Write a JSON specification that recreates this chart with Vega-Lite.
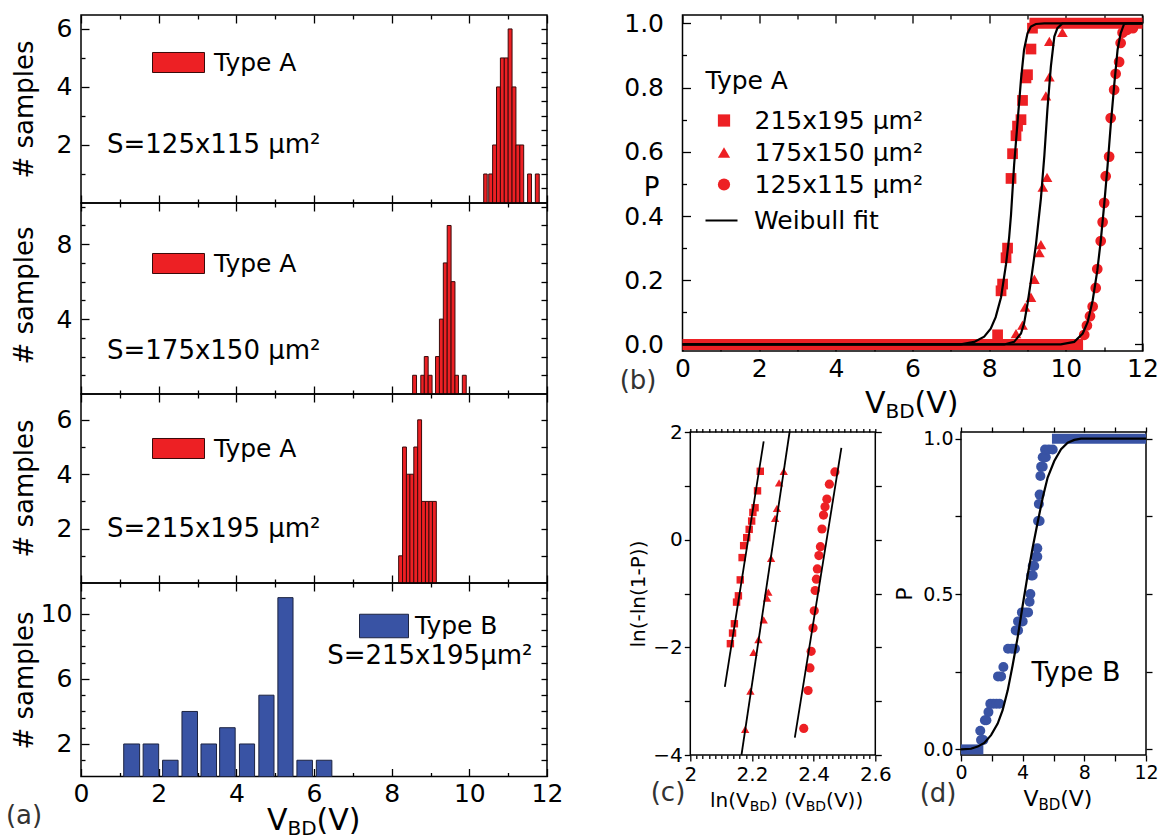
{
"$schema": "https://vega.github.io/schema/vega-lite/v6.json",
"background": "white",
"padding": {"left": 5, "top": 10, "right": 5, "bottom": 2},
"config": {
  "font": "DejaVu Sans",
  "view": {"stroke": "#000", "strokeWidth": 1.5},
  "axis": {"domain": false, "grid": false, "labelFont": "DejaVu Sans", "titleFont": "DejaVu Sans", "labelColor": "#000", "titleColor": "#000", "tickColor": "#000", "tickWidth": 1.3, "labelFlush": false, "labelOverlap": false, "titleFontWeight": "normal"},
  "legend": {"labelFont": "DejaVu Sans", "titleFont": "DejaVu Sans", "labelColor": "#000", "titleColor": "#000", "titleFontWeight": "normal", "padding": 0, "labelLimit": 400},
  "text": {"font": "DejaVu Sans", "color": "#000"}
},
"spacing": 54.5,
"bounds": "full",
"resolve": {"scale": {"color": "independent", "shape": "independent", "size": "independent"}, "legend": {"color": "independent", "shape": "independent", "size": "independent"}},
"hconcat": [
{
  "spacing": 0,
  "bounds": "flush",
  "resolve": {"scale": {"color": "independent", "shape": "independent", "size": "independent"}, "legend": {"color": "independent", "shape": "independent", "size": "independent"}},
  "vconcat": [
  {
    "width": 466, "height": 188,
    "layer": [
      {
        "data": {"values": [
          {"type": "Type A", "v0": 10.37, "v1": 10.46, "n": 1},
          {"type": "Type A", "v0": 10.5, "v1": 10.6, "n": 1},
          {"type": "Type A", "v0": 10.6, "v1": 10.7, "n": 2},
          {"type": "Type A", "v0": 10.7, "v1": 10.8, "n": 4},
          {"type": "Type A", "v0": 10.8, "v1": 10.9, "n": 5},
          {"type": "Type A", "v0": 10.9, "v1": 11.0, "n": 5},
          {"type": "Type A", "v0": 11.0, "v1": 11.1, "n": 6},
          {"type": "Type A", "v0": 11.1, "v1": 11.2, "n": 4},
          {"type": "Type A", "v0": 11.2, "v1": 11.3, "n": 2},
          {"type": "Type A", "v0": 11.3, "v1": 11.4, "n": 2},
          {"type": "Type A", "v0": 11.5, "v1": 11.6, "n": 1},
          {"type": "Type A", "v0": 11.7, "v1": 11.8, "n": 1}
        ]},
        "mark": {"type": "bar", "stroke": "#3a0a0a", "strokeWidth": 1},
        "encoding": {
          "x": {"field": "v0", "type": "quantitative", "scale": {"domain": [0, 12], "nice": false, "zero": false},
                "axis": {"orient": "bottom", "values": [0,1,2,3,4,5,6,7,8,9,10,11,12], "labels": false, "title": null, "tickSize": {"condition": {"test": "datum.value % 2 == 0", "value": -8}, "value": -4}}},
          "x2": {"field": "v1"},
          "y": {"field": "n", "type": "quantitative", "scale": {"domain": [0, 6.48], "nice": false},
                "axis": {"orient": "left", "values": [1,2,3,4,5,6], "labelExpr": "datum.value % 2 == 0 ? datum.label : ''", "tickSize": {"condition": {"test": "datum.value % 2 == 0", "value": -8}, "value": -4}, "labelFontSize": 25, "labelPadding": 17, "title": "# samples", "titleFontSize": 26, "titleX": -44, "titleY": 94}},
          "y2": {"datum": 0},
          "color": {"field": "type", "type": "nominal", "scale": {"range": ["#ed2024"]},
                    "legend": {"title": null, "orient": "none", "legendX": 71, "legendY": 21, "symbolType": "M-1,-0.385L1,-0.385L1,0.385L-1,0.385Z", "symbolSize": 2704, "symbolStrokeColor": "#3a0a0a", "symbolStrokeWidth": 1, "symbolOpacity": 1, "labelFontSize": 25, "labelOffset": 9}}
        }
      },
      {
        "data": {"values": [{}]},
        "mark": {"type": "text", "align": "left", "baseline": "middle", "fontSize": 26},
        "encoding": {
          "x": {"datum": 0.67, "type": "quantitative", "axis": {"orient": "top", "values": [0,1,2,3,4,5,6,7,8,9,10,11,12], "labels": false, "title": null, "tickSize": {"condition": {"test": "datum.value % 2 == 0", "value": -8}, "value": -4}}},
          "y": {"datum": 2.0, "type": "quantitative", "axis": {"orient": "right", "values": [0.5,1,1.5,2,2.5,3,3.5,4,4.5,5,5.5,6], "labels": false, "title": null, "tickSize": -6}},
          "text": {"value": "S=125x115 μm²"}
        }
      }
    ],
    "resolve": {"axis": {"x": "independent", "y": "independent"}}
  },
  {
    "width": 466, "height": 191,
    "layer": [
      {
        "data": {"values": [
          {"type": "Type A", "v0": 8.54, "v1": 8.64, "n": 1},
          {"type": "Type A", "v0": 8.75, "v1": 8.84, "n": 1},
          {"type": "Type A", "v0": 8.84, "v1": 8.94, "n": 2},
          {"type": "Type A", "v0": 8.94, "v1": 9.04, "n": 1},
          {"type": "Type A", "v0": 9.13, "v1": 9.23, "n": 2},
          {"type": "Type A", "v0": 9.23, "v1": 9.33, "n": 4},
          {"type": "Type A", "v0": 9.33, "v1": 9.43, "n": 7},
          {"type": "Type A", "v0": 9.43, "v1": 9.53, "n": 9},
          {"type": "Type A", "v0": 9.53, "v1": 9.63, "n": 6},
          {"type": "Type A", "v0": 9.63, "v1": 9.72, "n": 1},
          {"type": "Type A", "v0": 9.82, "v1": 9.92, "n": 1}
        ]},
        "mark": {"type": "bar", "stroke": "#3a0a0a", "strokeWidth": 1},
        "encoding": {
          "x": {"field": "v0", "type": "quantitative", "scale": {"domain": [0, 12], "nice": false, "zero": false},
                "axis": {"orient": "bottom", "values": [0,1,2,3,4,5,6,7,8,9,10,11,12], "labels": false, "title": null, "tickSize": {"condition": {"test": "datum.value % 2 == 0", "value": -8}, "value": -4}}},
          "x2": {"field": "v1"},
          "y": {"field": "n", "type": "quantitative", "scale": {"domain": [0, 10.2], "nice": false},
                "axis": {"orient": "left", "values": [1,2,3,4,5,6,7,8,9,10], "labelExpr": "datum.value % 4 == 0 ? datum.label : ''", "tickSize": {"condition": {"test": "datum.value % 4 == 0", "value": -8}, "value": -4}, "labelFontSize": 25, "labelPadding": 17, "title": "# samples", "titleFontSize": 26, "titleX": -44, "titleY": 92}},
          "y2": {"datum": 0},
          "color": {"field": "type", "type": "nominal", "scale": {"range": ["#ed2024"]},
                    "legend": {"title": null, "orient": "none", "legendX": 71, "legendY": 34, "symbolType": "M-1,-0.385L1,-0.385L1,0.385L-1,0.385Z", "symbolSize": 2704, "symbolStrokeColor": "#3a0a0a", "symbolStrokeWidth": 1, "symbolOpacity": 1, "labelFontSize": 25, "labelOffset": 9}}
        }
      },
      {
        "data": {"values": [{}]},
        "mark": {"type": "text", "align": "left", "baseline": "middle", "fontSize": 26},
        "encoding": {
          "x": {"datum": 0.67, "type": "quantitative", "axis": {"orient": "top", "values": [0,1,2,3,4,5,6,7,8,9,10,11,12], "labels": false, "title": null, "tickSize": {"condition": {"test": "datum.value % 2 == 0", "value": -8}, "value": -4}}},
          "y": {"datum": 2.29, "type": "quantitative", "axis": {"orient": "right", "values": [1,2,3,4,5,6,7,8,9,10], "labels": false, "title": null, "tickSize": -6}},
          "text": {"value": "S=175x150 μm²"}
        }
      }
    ],
    "resolve": {"axis": {"x": "independent", "y": "independent"}}
  },
  {
    "width": 466, "height": 189,
    "layer": [
      {
        "data": {"values": [
          {"type": "Type A", "v0": 8.18, "v1": 8.28, "n": 1},
          {"type": "Type A", "v0": 8.28, "v1": 8.38, "n": 5},
          {"type": "Type A", "v0": 8.38, "v1": 8.47, "n": 4},
          {"type": "Type A", "v0": 8.47, "v1": 8.57, "n": 4},
          {"type": "Type A", "v0": 8.57, "v1": 8.67, "n": 5},
          {"type": "Type A", "v0": 8.67, "v1": 8.77, "n": 6},
          {"type": "Type A", "v0": 8.77, "v1": 8.87, "n": 3},
          {"type": "Type A", "v0": 8.87, "v1": 8.96, "n": 3},
          {"type": "Type A", "v0": 8.96, "v1": 9.05, "n": 3},
          {"type": "Type A", "v0": 9.05, "v1": 9.15, "n": 3}
        ]},
        "mark": {"type": "bar", "stroke": "#3a0a0a", "strokeWidth": 1},
        "encoding": {
          "x": {"field": "v0", "type": "quantitative", "scale": {"domain": [0, 12], "nice": false, "zero": false},
                "axis": {"orient": "bottom", "values": [0,1,2,3,4,5,6,7,8,9,10,11,12], "labels": false, "title": null, "tickSize": {"condition": {"test": "datum.value % 2 == 0", "value": -8}, "value": -4}}},
          "x2": {"field": "v1"},
          "y": {"field": "n", "type": "quantitative", "scale": {"domain": [0, 6.95], "nice": false},
                "axis": {"orient": "left", "values": [1,2,3,4,5,6], "labelExpr": "datum.value % 2 == 0 ? datum.label : ''", "tickSize": {"condition": {"test": "datum.value % 2 == 0", "value": -8}, "value": -4}, "labelFontSize": 25, "labelPadding": 17, "title": "# samples", "titleFontSize": 26, "titleX": -44, "titleY": 94}},
          "y2": {"datum": 0},
          "color": {"field": "type", "type": "nominal", "scale": {"range": ["#ed2024"]},
                    "legend": {"title": null, "orient": "none", "legendX": 71, "legendY": 28, "symbolType": "M-1,-0.385L1,-0.385L1,0.385L-1,0.385Z", "symbolSize": 2704, "symbolStrokeColor": "#3a0a0a", "symbolStrokeWidth": 1, "symbolOpacity": 1, "labelFontSize": 25, "labelOffset": 9}}
        }
      },
      {
        "data": {"values": [{}]},
        "mark": {"type": "text", "align": "left", "baseline": "middle", "fontSize": 26},
        "encoding": {
          "x": {"datum": 0.67, "type": "quantitative", "axis": {"orient": "top", "values": [0,1,2,3,4,5,6,7,8,9,10,11,12], "labels": false, "title": null, "tickSize": {"condition": {"test": "datum.value % 2 == 0", "value": -8}, "value": -4}}},
          "y": {"datum": 2.0, "type": "quantitative", "axis": {"orient": "right", "values": [1,2,3,4,5,6], "labels": false, "title": null, "tickSize": -6}},
          "text": {"value": "S=215x195 μm²"}
        }
      }
    ],
    "resolve": {"axis": {"x": "independent", "y": "independent"}}
  },
  {
    "width": 466, "height": 193.5,
    "layer": [
      {
        "data": {"values": [
          {"type": "Type B", "v0": 1.1, "v1": 1.51, "n": 2},
          {"type": "Type B", "v0": 1.6, "v1": 2.0, "n": 2},
          {"type": "Type B", "v0": 2.1, "v1": 2.5, "n": 1},
          {"type": "Type B", "v0": 2.6, "v1": 3.0, "n": 4},
          {"type": "Type B", "v0": 3.09, "v1": 3.49, "n": 2},
          {"type": "Type B", "v0": 3.57, "v1": 3.97, "n": 3},
          {"type": "Type B", "v0": 4.08, "v1": 4.47, "n": 2},
          {"type": "Type B", "v0": 4.58, "v1": 4.97, "n": 5},
          {"type": "Type B", "v0": 5.07, "v1": 5.46, "n": 11},
          {"type": "Type B", "v0": 5.56, "v1": 5.96, "n": 1},
          {"type": "Type B", "v0": 6.06, "v1": 6.46, "n": 1}
        ]},
        "mark": {"type": "bar", "stroke": "#1c2340", "strokeWidth": 1},
        "encoding": {
          "x": {"field": "v0", "type": "quantitative", "scale": {"domain": [0, 12], "nice": false, "zero": false},
                "axis": {"orient": "bottom", "values": [0,1,2,3,4,5,6,7,8,9,10,11,12], "labelExpr": "datum.value % 2 == 0 ? datum.label : ''", "labelFontSize": 25, "labelPadding": 13, "title": null, "tickSize": {"condition": {"test": "datum.value % 2 == 0", "value": -8}, "value": -4}}},
          "x2": {"field": "v1"},
          "y": {"field": "n", "type": "quantitative", "scale": {"domain": [0, 11.9], "nice": false},
                "axis": {"orient": "left", "values": [1,2,3,4,5,6,7,8,9,10,11], "labelExpr": "(datum.value - 2) % 4 == 0 ? datum.label : ''", "tickSize": {"condition": {"test": "(datum.value - 2) % 4 == 0", "value": -8}, "value": -4}, "labelFontSize": 25, "labelPadding": 17, "title": "# samples", "titleFontSize": 26, "titleX": -44, "titleY": 97}},
          "y2": {"datum": 0},
          "color": {"field": "type", "type": "nominal", "scale": {"range": ["#3953a4"]},
                    "legend": {"title": null, "orient": "none", "legendX": 278, "legendY": 18, "symbolType": "M-1,-0.48L1,-0.48L1,0.48L-1,0.48Z", "symbolSize": 2401, "symbolStrokeColor": "#1c2340", "symbolStrokeWidth": 1, "symbolOpacity": 1, "labelFontSize": 25, "labelOffset": 6}}
        }
      },
      {
        "data": {"values": [{}]},
        "mark": {"type": "text", "align": "left", "baseline": "middle", "fontSize": 26},
        "encoding": {
          "x": {"datum": 6.34, "type": "quantitative", "axis": {"orient": "top", "values": [0,1,2,3,4,5,6,7,8,9,10,11,12], "labels": false, "title": null, "tickSize": {"condition": {"test": "datum.value % 2 == 0", "value": -8}, "value": -4}}},
          "y": {"datum": 7.4, "type": "quantitative", "axis": {"orient": "right", "values": [1,2,3,4,5,6,7,8,9,10,11], "labels": false, "title": null, "tickSize": -6}},
          "text": {"value": "S=215x195μm²"}
        }
      },
      {
        "data": {"values": [{}]},
        "mark": {"type": "text", "align": "center", "baseline": "middle", "fontSize": 26, "color": "#333"},
        "encoding": {"x": {"datum": -1.468, "type": "quantitative", "axis": null}, "y": {"datum": -2.43, "type": "quantitative", "axis": null}, "text": {"value": "(a)"}}
      },
      {
        "data": {"values": [{}]},
        "mark": {"type": "text", "align": "left", "baseline": "middle", "fontSize": 30},
        "encoding": {"x": {"datum": 4.79, "type": "quantitative", "axis": null}, "y": {"datum": -2.74, "type": "quantitative", "axis": null}, "text": {"value": "V"}}
      },
      {
        "data": {"values": [{}]},
        "mark": {"type": "text", "align": "left", "baseline": "middle", "fontSize": 20, "dx": 20.5, "dy": 8},
        "encoding": {"x": {"datum": 4.79, "type": "quantitative", "axis": null}, "y": {"datum": -2.74, "type": "quantitative", "axis": null}, "text": {"value": "BD"}}
      },
      {
        "data": {"values": [{}]},
        "mark": {"type": "text", "align": "left", "baseline": "middle", "fontSize": 30, "dx": 49.6},
        "encoding": {"x": {"datum": 4.79, "type": "quantitative", "axis": null}, "y": {"datum": -2.74, "type": "quantitative", "axis": null}, "text": {"value": "(V)"}}
      }
    ],
    "resolve": {"axis": {"x": "independent", "y": "independent"}}
  }
  ]
},
{
  "spacing": 81,
  "bounds": "flush",
  "resolve": {"scale": {"color": "independent", "shape": "independent", "size": "independent"}, "legend": {"color": "independent", "shape": "independent", "size": "independent"}},
  "vconcat": [
  {
    "width": 460, "height": 336,
    "layer": [
      {
        "data": {"values": [{"v0": 0, "v1": 10.45, "p": 0}, {"v0": 9.05, "v1": 12, "p": 1}]},
        "mark": {"type": "rule", "color": "#ed2024", "strokeWidth": 11},
        "encoding": {
          "x": {"field": "v0", "type": "quantitative", "scale": {"domain": [0, 12], "nice": false, "zero": false},
                "axis": {"orient": "bottom", "values": [0,1,2,3,4,5,6,7,8,9,10,11,12], "labelExpr": "datum.value % 2 == 0 ? datum.label : ''", "labelFontSize": 25, "labelPadding": 13, "title": null, "tickSize": {"condition": {"test": "datum.value % 2 == 0", "value": -8}, "value": -4}}},
          "x2": {"field": "v1"},
          "y": {"field": "p", "type": "quantitative", "scale": {"domain": [-0.0204, 1.026], "nice": false, "zero": false},
                "axis": {"orient": "left", "values": [0,0.1,0.2,0.3,0.4,0.5,0.6,0.7,0.8,0.9,1.0], "labelExpr": "round(datum.value*10) % 2 == 0 ? format(datum.value, '.1f') : ''", "tickSize": {"condition": {"test": "round(datum.value*10) % 2 == 0", "value": -8}, "value": -4}, "labelFontSize": 25, "labelPadding": 27, "title": "P", "titleFontSize": 26, "titleAngle": 0, "titleX": -31.5, "titleY": 172, "titleAlign": "center", "titleBaseline": "middle"}}
        }
      },
      {
        "data": {"values": [
          {"s": "215x195 μm²", "v": 9.13, "p": 0.985}, {"s": "215x195 μm²", "v": 9.09, "p": 0.92}, {"s": "215x195 μm²", "v": 9.0, "p": 0.84},
          {"s": "215x195 μm²", "v": 8.96, "p": 0.83}, {"s": "215x195 μm²", "v": 8.87, "p": 0.76}, {"s": "215x195 μm²", "v": 8.83, "p": 0.70},
          {"s": "215x195 μm²", "v": 8.74, "p": 0.68}, {"s": "215x195 μm²", "v": 8.70, "p": 0.65}, {"s": "215x195 μm²", "v": 8.61, "p": 0.594},
          {"s": "215x195 μm²", "v": 8.57, "p": 0.517}, {"s": "215x195 μm²", "v": 8.48, "p": 0.30}, {"s": "215x195 μm²", "v": 8.44, "p": 0.27},
          {"s": "215x195 μm²", "v": 8.35, "p": 0.188}, {"s": "215x195 μm²", "v": 8.31, "p": 0.167}, {"s": "215x195 μm²", "v": 8.22, "p": 0.03},
          {"s": "175x150 μm²", "v": 9.91, "p": 0.972}, {"s": "175x150 μm²", "v": 9.57, "p": 0.944}, {"s": "175x150 μm²", "v": 9.57, "p": 0.833},
          {"s": "175x150 μm²", "v": 9.48, "p": 0.774}, {"s": "175x150 μm²", "v": 9.51, "p": 0.52}, {"s": "175x150 μm²", "v": 9.40, "p": 0.49},
          {"s": "175x150 μm²", "v": 9.35, "p": 0.311}, {"s": "175x150 μm²", "v": 9.31, "p": 0.286}, {"s": "175x150 μm²", "v": 9.18, "p": 0.203},
          {"s": "175x150 μm²", "v": 9.09, "p": 0.147}, {"s": "175x150 μm²", "v": 8.94, "p": 0.116}, {"s": "175x150 μm²", "v": 8.87, "p": 0.06},
          {"s": "175x150 μm²", "v": 8.70, "p": 0.034},
          {"s": "125x115 μm²", "v": 11.48, "p": 0.971}, {"s": "125x115 μm²", "v": 11.43, "p": 0.939}, {"s": "125x115 μm²", "v": 11.39, "p": 0.88},
          {"s": "125x115 μm²", "v": 11.30, "p": 0.843}, {"s": "125x115 μm²", "v": 11.26, "p": 0.793}, {"s": "125x115 μm²", "v": 11.17, "p": 0.705},
          {"s": "125x115 μm²", "v": 11.13, "p": 0.585}, {"s": "125x115 μm²", "v": 11.04, "p": 0.524}, {"s": "125x115 μm²", "v": 11.0, "p": 0.441},
          {"s": "125x115 μm²", "v": 10.96, "p": 0.381}, {"s": "125x115 μm²", "v": 10.91, "p": 0.322}, {"s": "125x115 μm²", "v": 10.82, "p": 0.235},
          {"s": "125x115 μm²", "v": 10.78, "p": 0.176}, {"s": "125x115 μm²", "v": 10.70, "p": 0.118}, {"s": "125x115 μm²", "v": 10.63, "p": 0.088},
          {"s": "125x115 μm²", "v": 10.55, "p": 0.059}, {"s": "125x115 μm²", "v": 10.48, "p": 0.03}, {"s": "125x115 μm²", "v": 11.6, "p": 0.98},
          {"s": "125x115 μm²", "v": 11.75, "p": 0.985}
        ]},
        "mark": {"type": "point", "filled": true, "opacity": 1, "color": "#ed2024", "size": 115},
        "encoding": {
          "x": {"field": "v", "type": "quantitative", "axis": {"orient": "top", "values": [0,1,2,3,4,5,6,7,8,9,10,11,12], "labels": false, "title": null, "tickSize": {"condition": {"test": "datum.value % 2 == 0", "value": -8}, "value": -4}}},
          "y": {"field": "p", "type": "quantitative", "axis": {"orient": "right", "values": [0,0.1,0.2,0.3,0.4,0.5,0.6,0.7,0.8,0.9,1.0], "labels": false, "title": null, "tickSize": {"condition": {"test": "round(datum.value*10) % 2 == 0", "value": -8}, "value": -4}}},
          "shape": {"field": "s", "type": "nominal", "scale": {"domain": ["215x195 μm²", "175x150 μm²", "125x115 μm²"], "range": ["square", "triangle-up", "circle"]},
                    "legend": {"title": "Type A", "titleFontSize": 25, "orient": "none", "legendX": 23, "legendY": 54, "labelFontSize": 25, "symbolSize": 150, "symbolFillColor": "#ed2024", "symbolStrokeWidth": 0, "symbolOffset": 6, "labelOffset": 18, "rowPadding": 6, "titlePadding": 14}}
        }
      },
      {
        "data": {"values": [
          {"f": "a", "lg": "Weibull fit", "v": 0, "p": 0}, {"f": "a", "lg": "Weibull fit", "v": 7.26, "p": 0}, {"f": "a", "lg": "Weibull fit", "v": 7.61, "p": 0.008},
          {"f": "a", "lg": "Weibull fit", "v": 7.87, "p": 0.024}, {"f": "a", "lg": "Weibull fit", "v": 8.04, "p": 0.049}, {"f": "a", "lg": "Weibull fit", "v": 8.17, "p": 0.085},
          {"f": "a", "lg": "Weibull fit", "v": 8.31, "p": 0.147}, {"f": "a", "lg": "Weibull fit", "v": 8.44, "p": 0.25}, {"f": "a", "lg": "Weibull fit", "v": 8.52, "p": 0.332},
          {"f": "a", "lg": "Weibull fit", "v": 8.57, "p": 0.404}, {"f": "a", "lg": "Weibull fit", "v": 8.65, "p": 0.558}, {"f": "a", "lg": "Weibull fit", "v": 8.74, "p": 0.692},
          {"f": "a", "lg": "Weibull fit", "v": 8.83, "p": 0.825}, {"f": "a", "lg": "Weibull fit", "v": 8.91, "p": 0.918}, {"f": "a", "lg": "Weibull fit", "v": 9.0, "p": 0.969},
          {"f": "a", "lg": "Weibull fit", "v": 9.09, "p": 0.99}, {"f": "a", "lg": "Weibull fit", "v": 9.22, "p": 0.998}, {"f": "a", "lg": "Weibull fit", "v": 9.44, "p": 1.0},
          {"f": "a", "lg": "Weibull fit", "v": 12, "p": 1.0},
          {"f": "b", "lg": "Weibull fit", "v": 0, "p": 0}, {"f": "b", "lg": "Weibull fit", "v": 8.39, "p": 0}, {"f": "b", "lg": "Weibull fit", "v": 8.65, "p": 0.008},
          {"f": "b", "lg": "Weibull fit", "v": 8.83, "p": 0.034}, {"f": "b", "lg": "Weibull fit", "v": 8.91, "p": 0.065}, {"f": "b", "lg": "Weibull fit", "v": 9.0, "p": 0.126},
          {"f": "b", "lg": "Weibull fit", "v": 9.09, "p": 0.198}, {"f": "b", "lg": "Weibull fit", "v": 9.22, "p": 0.311}, {"f": "b", "lg": "Weibull fit", "v": 9.35, "p": 0.455},
          {"f": "b", "lg": "Weibull fit", "v": 9.44, "p": 0.589}, {"f": "b", "lg": "Weibull fit", "v": 9.52, "p": 0.733}, {"f": "b", "lg": "Weibull fit", "v": 9.61, "p": 0.866},
          {"f": "b", "lg": "Weibull fit", "v": 9.7, "p": 0.959}, {"f": "b", "lg": "Weibull fit", "v": 9.78, "p": 0.985}, {"f": "b", "lg": "Weibull fit", "v": 9.91, "p": 1.0},
          {"f": "b", "lg": "Weibull fit", "v": 12, "p": 1.0},
          {"f": "c", "lg": "Weibull fit", "v": 0, "p": 0}, {"f": "c", "lg": "Weibull fit", "v": 9.87, "p": 0}, {"f": "c", "lg": "Weibull fit", "v": 10.22, "p": 0.008},
          {"f": "c", "lg": "Weibull fit", "v": 10.44, "p": 0.034}, {"f": "c", "lg": "Weibull fit", "v": 10.57, "p": 0.07}, {"f": "c", "lg": "Weibull fit", "v": 10.7, "p": 0.137},
          {"f": "c", "lg": "Weibull fit", "v": 10.82, "p": 0.229}, {"f": "c", "lg": "Weibull fit", "v": 10.91, "p": 0.322}, {"f": "c", "lg": "Weibull fit", "v": 11.0, "p": 0.435},
          {"f": "c", "lg": "Weibull fit", "v": 11.09, "p": 0.558}, {"f": "c", "lg": "Weibull fit", "v": 11.17, "p": 0.681}, {"f": "c", "lg": "Weibull fit", "v": 11.26, "p": 0.805},
          {"f": "c", "lg": "Weibull fit", "v": 11.35, "p": 0.918}, {"f": "c", "lg": "Weibull fit", "v": 11.43, "p": 0.969}, {"f": "c", "lg": "Weibull fit", "v": 11.52, "p": 0.998},
          {"f": "c", "lg": "Weibull fit", "v": 11.61, "p": 1.0}, {"f": "c", "lg": "Weibull fit", "v": 12, "p": 1.0}
        ]},
        "mark": {"type": "line", "strokeWidth": 2.2},
        "encoding": {
          "x": {"field": "v", "type": "quantitative", "axis": null},
          "y": {"field": "p", "type": "quantitative", "axis": null},
          "detail": {"field": "f"},
          "color": {"field": "lg", "type": "nominal", "scale": {"range": ["#000000"]},
                    "legend": {"title": null, "orient": "none", "legendX": 21.5, "legendY": 188, "symbolType": "stroke", "symbolSize": 1024, "symbolStrokeColor": "#000", "symbolStrokeWidth": 2.2, "labelFontSize": 25, "labelOffset": 15}}
        }
      },
      {
        "data": {"values": [{}]},
        "mark": {"type": "text", "align": "center", "baseline": "middle", "fontSize": 26, "color": "#333"},
        "encoding": {"x": {"datum": -1.16, "type": "quantitative", "axis": null}, "y": {"datum": -0.115, "type": "quantitative", "axis": null}, "text": {"value": "(b)"}}
      },
      {
        "data": {"values": [{}]},
        "mark": {"type": "text", "align": "left", "baseline": "middle", "fontSize": 30},
        "encoding": {"x": {"datum": 4.76, "type": "quantitative", "axis": null}, "y": {"datum": -0.186, "type": "quantitative", "axis": null}, "text": {"value": "V"}}
      },
      {
        "data": {"values": [{}]},
        "mark": {"type": "text", "align": "left", "baseline": "middle", "fontSize": 20, "dx": 20.5, "dy": 8},
        "encoding": {"x": {"datum": 4.76, "type": "quantitative", "axis": null}, "y": {"datum": -0.186, "type": "quantitative", "axis": null}, "text": {"value": "BD"}}
      },
      {
        "data": {"values": [{}]},
        "mark": {"type": "text", "align": "left", "baseline": "middle", "fontSize": 30, "dx": 49.6},
        "encoding": {"x": {"datum": 4.76, "type": "quantitative", "axis": null}, "y": {"datum": -0.186, "type": "quantitative", "axis": null}, "text": {"value": "(V)"}}
      }
    ],
    "resolve": {"axis": {"x": "independent", "y": "independent"}}
  },
  {
    "spacing": 6.8,
    "bounds": "flush",
    "resolve": {"scale": {"color": "independent", "shape": "independent", "size": "independent"}, "legend": {"color": "independent", "shape": "independent", "size": "independent"}},
    "hconcat": [
      {"width": 1, "height": 1, "data": {"values": []}, "mark": "point", "view": {"stroke": null}},
      {
        "spacing": 85.7,
        "bounds": "flush",
        "resolve": {"scale": {"color": "independent", "shape": "independent", "size": "independent"}, "legend": {"color": "independent", "shape": "independent", "size": "independent"}},
        "hconcat": [
        {
          "width": 185, "height": 323,
          "layer": [
            {
              "data": {"values": [
                {"s": "sq", "lx": 2.227, "ly": 1.27}, {"s": "sq", "lx": 2.218, "ly": 0.907}, {"s": "sq", "lx": 2.210, "ly": 0.593},
                {"s": "sq", "lx": 2.203, "ly": 0.506}, {"s": "sq", "lx": 2.199, "ly": 0.346}, {"s": "sq", "lx": 2.191, "ly": 0.191},
                {"s": "sq", "lx": 2.183, "ly": 0.037}, {"s": "sq", "lx": 2.173, "ly": -0.111}, {"s": "sq", "lx": 2.168, "ly": -0.333},
                {"s": "sq", "lx": 2.162, "ly": -0.747}, {"s": "sq", "lx": 2.156, "ly": -1.043}, {"s": "sq", "lx": 2.150, "ly": -1.160},
                {"s": "sq", "lx": 2.143, "ly": -1.562}, {"s": "sq", "lx": 2.137, "ly": -1.735}, {"s": "sq", "lx": 2.130, "ly": -1.932},
                {"s": "tri", "lx": 2.303, "ly": 1.27}, {"s": "tri", "lx": 2.288, "ly": 1.056}, {"s": "tri", "lx": 2.281, "ly": 0.580},
                {"s": "tri", "lx": 2.275, "ly": 0.395}, {"s": "tri", "lx": 2.262, "ly": -0.346}, {"s": "tri", "lx": 2.253, "ly": -0.975},
                {"s": "tri", "lx": 2.249, "ly": -1.086}, {"s": "tri", "lx": 2.238, "ly": -1.488}, {"s": "tri", "lx": 2.221, "ly": -1.858},
                {"s": "tri", "lx": 2.205, "ly": -2.093}, {"s": "tri", "lx": 2.195, "ly": -2.815}, {"s": "tri", "lx": 2.178, "ly": -3.525},
                {"s": "cir", "lx": 2.469, "ly": 1.259}, {"s": "cir", "lx": 2.451, "ly": 1.031}, {"s": "cir", "lx": 2.443, "ly": 0.753},
                {"s": "cir", "lx": 2.437, "ly": 0.611}, {"s": "cir", "lx": 2.432, "ly": 0.457}, {"s": "cir", "lx": 2.427, "ly": 0.198},
                {"s": "cir", "lx": 2.422, "ly": -0.130}, {"s": "cir", "lx": 2.417, "ly": -0.296}, {"s": "cir", "lx": 2.412, "ly": -0.543},
                {"s": "cir", "lx": 2.409, "ly": -0.735}, {"s": "cir", "lx": 2.405, "ly": -0.944}, {"s": "cir", "lx": 2.402, "ly": -1.321},
                {"s": "cir", "lx": 2.398, "ly": -1.642}, {"s": "cir", "lx": 2.392, "ly": -2.074}, {"s": "cir", "lx": 2.388, "ly": -2.383},
                {"s": "cir", "lx": 2.382, "ly": -2.802}, {"s": "cir", "lx": 2.368, "ly": -3.506}
              ]},
              "mark": {"type": "point", "filled": true, "opacity": 1, "color": "#ed2024"},
              "encoding": {
                "x": {"field": "lx", "type": "quantitative", "scale": {"domain": [2, 2.6], "nice": false, "zero": false},
                      "axis": {"orient": "bottom", "values": [2,2.02,2.04,2.06,2.08,2.1,2.12,2.14,2.16,2.18,2.2,2.22,2.24,2.26,2.28,2.3,2.32,2.34,2.36,2.38,2.4,2.42,2.44,2.46,2.48,2.5,2.52,2.54,2.56,2.58,2.6], "labelExpr": "abs(datum.value*5 - round(datum.value*5)) < 0.001 ? format(datum.value, '~g') : ''", "labelFontSize": 20, "labelPadding": 3, "title": null, "tickSize": {"condition": {"test": "abs(datum.value*5 - round(datum.value*5)) < 0.001", "value": 6}, "value": 3.5}}},
                "y": {"field": "ly", "type": "quantitative", "scale": {"domain": [-4, 2], "nice": false, "zero": false},
                      "axis": {"orient": "left", "values": [-4,-3,-2,-1,0,1,2], "labelExpr": "datum.value % 2 == 0 ? datum.label : ''", "labelFontSize": 20, "labelPadding": 2, "tickSize": 6, "title": "ln(-ln(1-P))", "titleFontSize": 20, "titlePadding": 4}},
                "shape": {"field": "s", "type": "nominal", "scale": {"domain": ["sq", "tri", "cir"], "range": ["square", "triangle-up", "circle"]}, "legend": null},
                "size": {"field": "s", "type": "nominal", "scale": {"domain": ["sq", "tri", "cir"], "range": [55, 85, 95]}, "legend": null}
              }
            },
            {
              "data": {"values": [
                {"f": "a", "lx": 2.112, "ly": -2.735}, {"f": "a", "lx": 2.238, "ly": 1.827},
                {"f": "b", "lx": 2.166, "ly": -4.0}, {"f": "b", "lx": 2.322, "ly": 2.0},
                {"f": "c", "lx": 2.339, "ly": -3.679}, {"f": "c", "lx": 2.490, "ly": 1.704}
              ]},
              "mark": {"type": "line", "color": "#000", "strokeWidth": 1.8},
              "encoding": {
                "x": {"field": "lx", "type": "quantitative", "axis": {"orient": "top", "values": [2,2.02,2.04,2.06,2.08,2.1,2.12,2.14,2.16,2.18,2.2,2.22,2.24,2.26,2.28,2.3,2.32,2.34,2.36,2.38,2.4,2.42,2.44,2.46,2.48,2.5,2.52,2.54,2.56,2.58,2.6], "labels": false, "title": null, "tickSize": 3.5}},
                "y": {"field": "ly", "type": "quantitative", "axis": {"orient": "right", "values": [-4,-3,-2,-1,0,1,2], "labels": false, "title": null, "tickSize": 6}},
                "detail": {"field": "f"}
              }
            },
            {
              "data": {"values": [{}]},
              "mark": {"type": "text", "align": "center", "baseline": "middle", "fontSize": 26, "color": "#333"},
              "encoding": {"x": {"datum": 1.9277, "type": "quantitative", "axis": null}, "y": {"datum": -4.70, "type": "quantitative", "axis": null}, "text": {"value": "(c)"}}
            },
            {
              "data": {"values": [{}]},
              "mark": {"type": "text", "align": "left", "baseline": "middle", "fontSize": 20},
              "encoding": {"x": {"datum": 2.0639, "type": "quantitative", "axis": null}, "y": {"datum": -4.846, "type": "quantitative", "axis": null}, "text": {"value": "ln(V"}}
            },
            {
              "data": {"values": [{}]},
              "mark": {"type": "text", "align": "left", "baseline": "middle", "fontSize": 14, "dx": 39.7, "dy": 6},
              "encoding": {"x": {"datum": 2.0639, "type": "quantitative", "axis": null}, "y": {"datum": -4.846, "type": "quantitative", "axis": null}, "text": {"value": "BD"}}
            },
            {
              "data": {"values": [{}]},
              "mark": {"type": "text", "align": "left", "baseline": "middle", "fontSize": 20, "dx": 60.1},
              "encoding": {"x": {"datum": 2.0639, "type": "quantitative", "axis": null}, "y": {"datum": -4.846, "type": "quantitative", "axis": null}, "text": {"value": ") (V"}}
            },
            {
              "data": {"values": [{}]},
              "mark": {"type": "text", "align": "left", "baseline": "middle", "fontSize": 14, "dx": 95.7, "dy": 6},
              "encoding": {"x": {"datum": 2.0639, "type": "quantitative", "axis": null}, "y": {"datum": -4.846, "type": "quantitative", "axis": null}, "text": {"value": "BD"}}
            },
            {
              "data": {"values": [{}]},
              "mark": {"type": "text", "align": "left", "baseline": "middle", "fontSize": 20, "dx": 116.1},
              "encoding": {"x": {"datum": 2.0639, "type": "quantitative", "axis": null}, "y": {"datum": -4.846, "type": "quantitative", "axis": null}, "text": {"value": "(V))"}}
            }
          ],
          "resolve": {"axis": {"x": "independent", "y": "independent"}}
        },
        {
          "width": 185, "height": 323,
          "layer": [
            {
              "data": {"values": [{"v0": 0, "v1": 1.45, "p": 0}, {"v0": 5.9, "v1": 12, "p": 1}]},
              "mark": {"type": "rule", "color": "#3953a4", "strokeWidth": 10},
              "encoding": {
                "x": {"field": "v0", "type": "quantitative", "scale": {"domain": [0, 12], "nice": false, "zero": false}, "axis": null},
                "x2": {"field": "v1"},
                "y": {"field": "p", "type": "quantitative", "scale": {"domain": [-0.018, 1.0215], "nice": false, "zero": false}, "axis": null}
              }
            },
            {
              "data": {"values": [
                {"v": 1.3, "p": 0.03}, {"v": 1.45, "p": 0.03}, {"v": 1.25, "p": 0.06}, {"v": 1.55, "p": 0.094}, {"v": 1.65, "p": 0.094},
                {"v": 1.78, "p": 0.12}, {"v": 1.9, "p": 0.147}, {"v": 2.1, "p": 0.147}, {"v": 2.3, "p": 0.147}, {"v": 2.5, "p": 0.147},
                {"v": 2.4, "p": 0.235}, {"v": 2.6, "p": 0.235}, {"v": 2.75, "p": 0.265}, {"v": 3.05, "p": 0.324}, {"v": 3.3, "p": 0.324},
                {"v": 3.5, "p": 0.324}, {"v": 3.55, "p": 0.383}, {"v": 3.7, "p": 0.383}, {"v": 3.7, "p": 0.412}, {"v": 3.85, "p": 0.412},
                {"v": 4.0, "p": 0.412}, {"v": 3.95, "p": 0.441}, {"v": 4.15, "p": 0.441}, {"v": 4.35, "p": 0.441}, {"v": 4.45, "p": 0.475},
                {"v": 4.5, "p": 0.5}, {"v": 4.55, "p": 0.56}, {"v": 4.65, "p": 0.56}, {"v": 4.65, "p": 0.59}, {"v": 4.75, "p": 0.59},
                {"v": 4.85, "p": 0.62}, {"v": 4.95, "p": 0.62}, {"v": 4.95, "p": 0.647}, {"v": 5.0, "p": 0.735}, {"v": 5.1, "p": 0.735},
                {"v": 5.05, "p": 0.79}, {"v": 5.1, "p": 0.82}, {"v": 5.15, "p": 0.88}, {"v": 5.2, "p": 0.91}, {"v": 5.3, "p": 0.91},
                {"v": 5.3, "p": 0.94}, {"v": 5.5, "p": 0.94}, {"v": 5.45, "p": 0.965}, {"v": 5.7, "p": 0.965}, {"v": 5.95, "p": 0.965}
              ]},
              "mark": {"type": "circle", "opacity": 1, "color": "#3953a4", "size": 100},
              "encoding": {
                "x": {"field": "v", "type": "quantitative", "axis": {"orient": "bottom", "values": [0,2,4,6,8,10,12], "labelExpr": "datum.value % 4 == 0 ? datum.label : ''", "labelFontSize": 19, "labelPadding": 2, "tickSize": 6, "title": null}},
                "y": {"field": "p", "type": "quantitative", "axis": {"orient": "left", "values": [0,0.25,0.5,0.75,1], "labelExpr": "round(datum.value*4) % 2 == 0 ? format(datum.value, '.1f') : ''", "labelFontSize": 19, "labelPadding": 2, "tickSize": 6, "title": "P", "titleFontSize": 22, "titlePadding": 6}}
              }
            },
            {
              "data": {"values": [
                {"v": 0, "p": 0}, {"v": 0.65, "p": 0.002}, {"v": 1.08, "p": 0.009}, {"v": 1.51, "p": 0.021}, {"v": 1.95, "p": 0.046},
                {"v": 2.38, "p": 0.083}, {"v": 2.7, "p": 0.126}, {"v": 3.03, "p": 0.19}, {"v": 3.35, "p": 0.271}, {"v": 3.68, "p": 0.362},
                {"v": 4.0, "p": 0.463}, {"v": 4.32, "p": 0.56}, {"v": 4.65, "p": 0.65}, {"v": 4.97, "p": 0.73}, {"v": 5.3, "p": 0.81},
                {"v": 5.62, "p": 0.875}, {"v": 6.05, "p": 0.928}, {"v": 6.49, "p": 0.966}, {"v": 6.92, "p": 0.987}, {"v": 7.35, "p": 0.996},
                {"v": 7.78, "p": 1.0}, {"v": 12, "p": 1.0}
              ]},
              "mark": {"type": "line", "color": "#000", "strokeWidth": 2.2},
              "encoding": {
                "x": {"field": "v", "type": "quantitative", "axis": {"orient": "top", "values": [0,2,4,6,8,10,12], "labels": false, "tickSize": 5, "title": null}},
                "y": {"field": "p", "type": "quantitative", "axis": {"orient": "right", "values": [0,0.25,0.5,0.75,1], "labels": false, "tickSize": 6, "title": null}}
              }
            },
            {
              "data": {"values": [{}]},
              "mark": {"type": "text", "align": "center", "baseline": "middle", "fontSize": 27},
              "encoding": {"x": {"datum": 7.46, "type": "quantitative", "axis": null}, "y": {"datum": 0.246, "type": "quantitative", "axis": null}, "text": {"value": "Type B"}}
            },
            {
              "data": {"values": [{}]},
              "mark": {"type": "text", "align": "center", "baseline": "middle", "fontSize": 26, "color": "#333"},
              "encoding": {"x": {"datum": -1.49, "type": "quantitative", "axis": null}, "y": {"datum": -0.142, "type": "quantitative", "axis": null}, "text": {"value": "(d)"}}
            },
            {
              "data": {"values": [{}]},
              "mark": {"type": "text", "align": "left", "baseline": "middle", "fontSize": 22},
              "encoding": {"x": {"datum": 4.05, "type": "quantitative", "axis": null}, "y": {"datum": -0.161, "type": "quantitative", "axis": null}, "text": {"value": "V"}}
            },
            {
              "data": {"values": [{}]},
              "mark": {"type": "text", "align": "left", "baseline": "middle", "fontSize": 15, "dx": 15, "dy": 6},
              "encoding": {"x": {"datum": 4.05, "type": "quantitative", "axis": null}, "y": {"datum": -0.161, "type": "quantitative", "axis": null}, "text": {"value": "BD"}}
            },
            {
              "data": {"values": [{}]},
              "mark": {"type": "text", "align": "left", "baseline": "middle", "fontSize": 22, "dx": 36.8},
              "encoding": {"x": {"datum": 4.05, "type": "quantitative", "axis": null}, "y": {"datum": -0.161, "type": "quantitative", "axis": null}, "text": {"value": "(V)"}}
            }
          ],
          "resolve": {"axis": {"x": "independent", "y": "independent"}}
        }
        ]
      }
    ]
  }
  ]
}
]
}
